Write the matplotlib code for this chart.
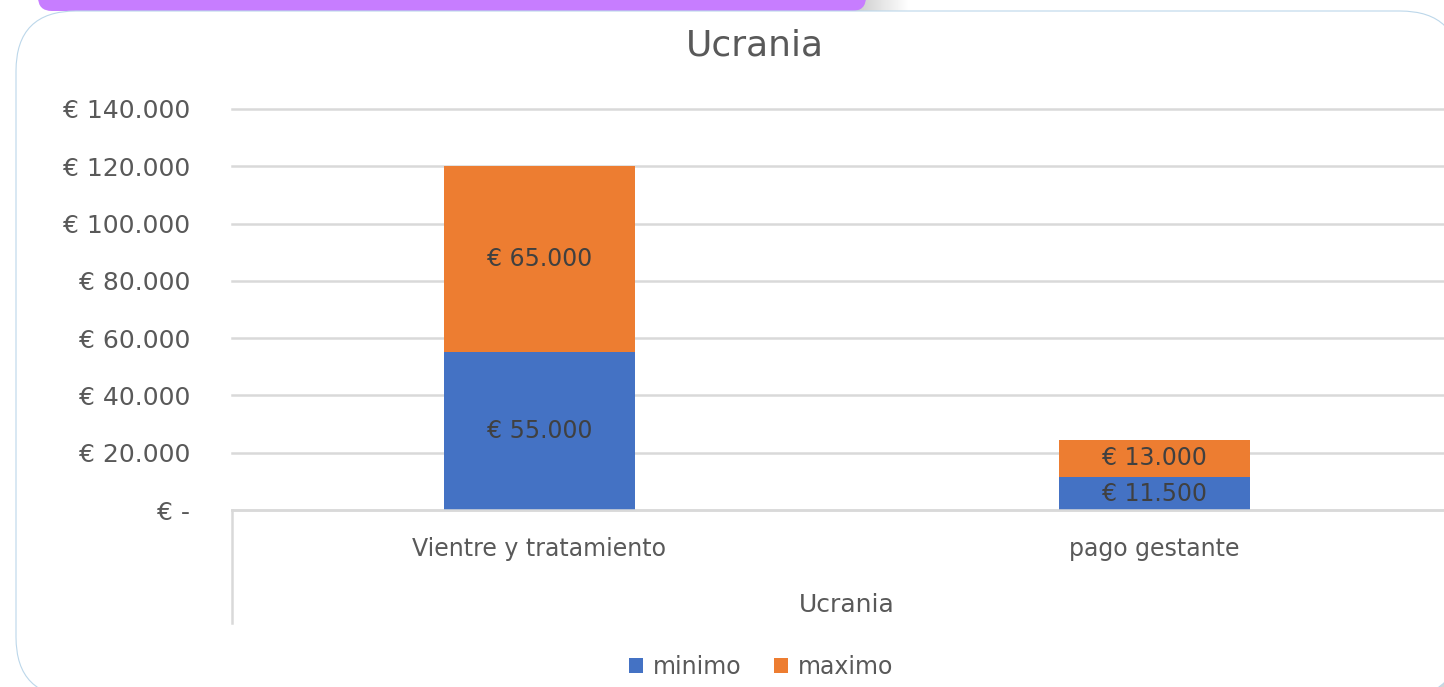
import numpy as np
from matplotlib import pyplot as plt
from matplotlib.patches import FancyBboxPatch, Rectangle
from matplotlib.lines import Line2D

# chart data
categories = ["Vientre y tratamiento", "pago gestante"]
minimo = [55000, 11500]
maximo = [65000, 13000]
series_names = ["minimo", "maximo"]
y_ticks = [0, 20000, 40000, 60000, 80000, 100000, 120000, 140000]
y_tick_labels = ["€ -", "€ 20.000", "€ 40.000", "€ 60.000", "€ 80.000",
                 "€ 100.000", "€ 120.000", "€ 140.000"]
group_label = "Ucrania"
title = "Ucrania"

blue = "#4472C4"
orange = "#ED7D31"
grey_text = "#595959"
grid_grey = "#d9d9d9"


def euro(v):
    # 55000 -> "€ 55.000"
    return "€ " + f"{v:,.0f}".replace(",", ".")


W, H = 1444, 687
fig = plt.figure(figsize=(W / 100, H / 100), dpi=100)
fig.patch.set_facecolor("white")

# background layer in pixel coords (origin top-left)
bg = fig.add_axes([0, 0, 1, 1], zorder=-1)
bg.set_xlim(0, W)
bg.set_ylim(H, 0)
bg.axis("off")

# grey shadow at bottom right corner
bg.add_patch(Rectangle((1390, 640), 70, 60, color="#d6d6d6", lw=0))
# shadow next to purple strip
grad = np.linspace(0.78, 1.0, 60).reshape(1, -1)
bg.imshow(grad, cmap="gray", vmin=0, vmax=1, extent=(850, 910, 11, 0),
          aspect="auto", zorder=1)
# purple strip on top
bg.add_patch(FancyBboxPatch((38, -40), 828, 51,
                            boxstyle="round,pad=0,rounding_size=14",
                            facecolor="#c77dff", edgecolor="none", zorder=2))
# white card
bg.add_patch(FancyBboxPatch((16, 11), 1444, 686,
                            boxstyle="round,pad=0,rounding_size=60",
                            facecolor="white", edgecolor="#bcd7ea", lw=0.8,
                            zorder=3))

# main chart
ax = fig.add_axes([232 / W, 1 - 510 / H, 1230 / W, 401 / H])
ax.set_facecolor("none")
x = np.arange(len(categories))
bar_w = 0.312
b1 = ax.bar(x, minimo, width=bar_w, color=blue, label=series_names[0], zorder=2)
b2 = ax.bar(x, maximo, width=bar_w, bottom=minimo, color=orange,
            label=series_names[1], zorder=2)
ax.bar_label(b1, labels=[euro(v) for v in minimo], label_type="center",
             fontsize=17, color="#404040")
ax.bar_label(b2, labels=[euro(v) for v in maximo], label_type="center",
             fontsize=17, color="#404040")

ax.set_xlim(-0.5, 1.5)
ax.set_ylim(0, 140000)
ax.set_yticks(y_ticks)
ax.set_yticklabels(y_tick_labels)
ax.tick_params(axis="y", length=0, pad=30, labelsize=18, labelcolor=grey_text)
ax.set_xticks([])
ax.yaxis.grid(True, color=grid_grey, lw=1.8)
for gl in ax.get_ygridlines():
    gl.set_clip_on(False)
ax.set_axisbelow(True)
for s in ["top", "right", "left"]:
    ax.spines[s].set_visible(False)
ax.spines["bottom"].set_color(grid_grey)
ax.spines["bottom"].set_linewidth(1.8)

# category labels and outer group label
for xi, cat in zip(x, categories):
    ax.text(xi, -0.097, cat, transform=ax.get_xaxis_transform(),
            ha="center", va="center", fontsize=17, color=grey_text)
ax.text(0.5, -0.237, group_label, transform=ax.transAxes,
        ha="center", va="center", fontsize=18, color=grey_text)
ax.add_line(Line2D([0, 0], [0, -0.282], transform=ax.transAxes,
                   color=grid_grey, lw=1.8, clip_on=False))

fig.text(755 / W, 1 - 45 / H, title, ha="center", va="center",
         fontsize=26, color=grey_text)

fig.legend(handles=[b1, b2], labels=series_names, loc="center",
           bbox_to_anchor=(761 / W, 1 - 667 / H), ncol=2, frameon=False,
           fontsize=17, labelcolor=grey_text, handlelength=0.6,
           handleheight=0.6, handletextpad=0.4, columnspacing=1.4)

fig.savefig("out.png", dpi=100)
